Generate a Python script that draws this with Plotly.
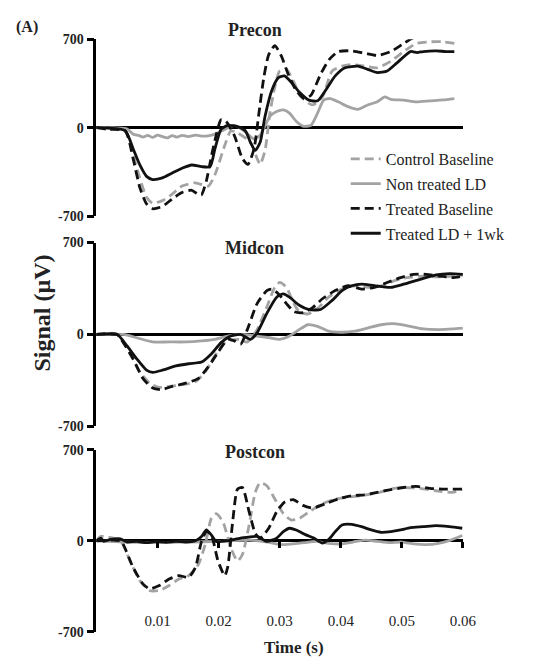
import plotly.graph_objects as go

# ---------------- data (time in s, signal in µV) ----------------
series_names = ["Control Baseline", "Non treated LD", "Treated Baseline", "Treated LD + 1wk"]
panel_titles = ["Precon", "Midcon", "Postcon"]
x_tick_vals = [0.01, 0.02, 0.03, 0.04, 0.05, 0.06]
x_tick_text = ["0.01", "0.02", "0.03", "0.04", "0.05", "0.06"]
y_tick_vals = [-700, 0, 700]
y_tick_text = ["-700", "0", "700"]

precon_control_baseline = [
    (0.0, 0), (0.0047, -25), (0.0066, -320), (0.0082, -551), (0.0092, -597), (0.0108, -577),
    (0.0124, -526), (0.0140, -462), (0.0162, -436), (0.0183, -462), (0.0194, -372), (0.0210, -141),
    (0.0220, -26), (0.0231, -40), (0.0252, -115), (0.0263, -244), (0.0268, -290), (0.0276, -180),
    (0.0284, 115), (0.0292, 320), (0.0300, 449), (0.0311, 462), (0.0322, 372), (0.0335, 244),
    (0.0354, 180), (0.0370, 244), (0.0386, 449), (0.0402, 487), (0.0418, 500), (0.0439, 487),
    (0.0460, 474), (0.0482, 526), (0.0503, 603), (0.0524, 667), (0.0546, 680), (0.0567, 680),
    (0.0586, 667),
]
precon_non_treated = [
    (0.0, 0), (0.0050, -10), (0.0060, -51), (0.0070, -62), (0.0076, -75), (0.0084, -60), (0.0092, -77),
    (0.0100, -58), (0.0108, -70), (0.0116, -80), (0.0124, -62), (0.0132, -74), (0.0140, -60),
    (0.0150, -70), (0.0162, -59), (0.0172, -66), (0.0183, -64), (0.0194, -51), (0.0210, -13),
    (0.0226, 18), (0.0242, -26), (0.0258, -90), (0.0268, -60), (0.0284, 90), (0.0295, 128),
    (0.0306, 141), (0.0316, 115), (0.0327, 51), (0.0338, 13), (0.0351, 18), (0.0362, 115),
    (0.0372, 218), (0.0383, 231), (0.0396, 205), (0.0412, 167), (0.0428, 146), (0.0444, 180),
    (0.0460, 205), (0.0472, 244), (0.0482, 225), (0.0503, 218), (0.0524, 205), (0.0546, 213),
    (0.0567, 220), (0.0586, 231),
]
precon_treated_baseline = [
    (0.0, 0), (0.0018, -13), (0.0047, -25), (0.0060, -244), (0.0071, -474), (0.0082, -603),
    (0.0092, -641), (0.0108, -623), (0.0124, -564), (0.0140, -513), (0.0156, -495), (0.0166, -526),
    (0.0172, -530), (0.0180, -420), (0.0188, -230), (0.0196, -60), (0.0204, 64), (0.0212, 51),
    (0.0226, -64), (0.0239, -244), (0.0248, -290), (0.0258, -167), (0.0266, 115), (0.0274, 397),
    (0.0282, 577), (0.0292, 649), (0.0303, 564), (0.0314, 423), (0.0327, 295), (0.0340, 231),
    (0.0351, 256), (0.0367, 423), (0.0381, 539), (0.0396, 603), (0.0418, 608), (0.0439, 590),
    (0.0460, 572), (0.0482, 603), (0.0503, 667), (0.0516, 705), (0.0530, 740),
]
precon_treated_ld = [
    (0.0, 0), (0.0047, -25), (0.0060, -167), (0.0071, -295), (0.0082, -385), (0.0092, -410),
    (0.0108, -397), (0.0124, -359), (0.0140, -321), (0.0156, -295), (0.0172, -308), (0.0186, -308),
    (0.0194, -167), (0.0204, -13), (0.0215, 18), (0.0231, 8), (0.0244, -26), (0.0252, -115),
    (0.0260, -180), (0.0268, -115), (0.0276, 90), (0.0287, 295), (0.0298, 397), (0.0308, 410),
    (0.0319, 359), (0.0332, 282), (0.0348, 218), (0.0362, 213), (0.0375, 295), (0.0391, 410),
    (0.0407, 474), (0.0428, 487), (0.0444, 462), (0.0460, 436), (0.0476, 449), (0.0492, 513),
    (0.0514, 603), (0.0525, 595), (0.0535, 603), (0.0556, 608), (0.0572, 603), (0.0586, 603),
]

midcon_control_baseline = [
    (0.0, 0), (0.0034, 0), (0.0055, -148), (0.0071, -285), (0.0087, -371), (0.0103, -403),
    (0.0119, -396), (0.0140, -383), (0.0162, -359), (0.0178, -285), (0.0194, -161), (0.0210, -62),
    (0.0231, -37), (0.0247, -57), (0.0263, 37), (0.0279, 210), (0.0292, 359), (0.0300, 396),
    (0.0311, 359), (0.0322, 247), (0.0332, 173), (0.0346, 156), (0.0362, 198), (0.0380, 284),
    (0.0402, 346), (0.0423, 371), (0.0444, 359), (0.0466, 371), (0.0487, 408), (0.0508, 433),
    (0.0535, 445), (0.0562, 438), (0.0586, 445), (0.0600, 453),
]
midcon_non_treated = [
    (0.0, 0), (0.0044, 0), (0.0066, -25), (0.0092, -57), (0.0119, -57), (0.0146, -57),
    (0.0172, -49), (0.0194, -37), (0.0215, -12), (0.0236, 0), (0.0263, -12), (0.0284, -25),
    (0.0300, -37), (0.0316, -12), (0.0332, 37), (0.0346, 74), (0.0362, 62), (0.0380, 25),
    (0.0402, 17), (0.0423, 25), (0.0444, 49), (0.0466, 74), (0.0487, 82), (0.0508, 67),
    (0.0535, 42), (0.0562, 37), (0.0583, 42), (0.0600, 49),
]
midcon_treated_baseline = [
    (0.0, 0), (0.0034, 0), (0.0044, -62), (0.0060, -186), (0.0076, -334), (0.0092, -408),
    (0.0106, -420), (0.0124, -396), (0.0146, -371), (0.0167, -334), (0.0183, -247), (0.0199, -136),
    (0.0215, -37), (0.0226, -49), (0.0236, -74), (0.0247, 37), (0.0263, 235), (0.0279, 334),
    (0.0287, 346), (0.0298, 309), (0.0311, 235), (0.0324, 173), (0.0338, 166), (0.0354, 205),
    (0.0370, 272), (0.0391, 334), (0.0412, 371), (0.0434, 346), (0.0455, 359), (0.0476, 396),
    (0.0498, 433), (0.0519, 458), (0.0540, 458), (0.0562, 445), (0.0583, 433), (0.0600, 445),
]
midcon_treated_ld = [
    (0.0, 0), (0.0034, 0), (0.0050, -87), (0.0066, -186), (0.0082, -272), (0.0092, -289),
    (0.0108, -272), (0.0130, -240), (0.0151, -223), (0.0172, -210), (0.0188, -148), (0.0204, -62),
    (0.0220, -12), (0.0236, 0), (0.0252, -37), (0.0263, 12), (0.0279, 161), (0.0295, 284),
    (0.0306, 309), (0.0316, 284), (0.0332, 223), (0.0348, 190), (0.0367, 190), (0.0386, 260),
    (0.0402, 334), (0.0418, 371), (0.0434, 383), (0.0455, 371), (0.0482, 359), (0.0503, 383),
    (0.0530, 420), (0.0556, 453), (0.0578, 463), (0.0600, 458),
]

postcon_control_baseline = [
    (0.0, 0), (0.0007, 33), (0.0039, 0), (0.0055, -156), (0.0071, -307), (0.0087, -383),
    (0.0103, -383), (0.0119, -345), (0.0135, -295), (0.0151, -269), (0.0167, -181), (0.0178, -30),
    (0.0188, 171), (0.0196, 209), (0.0207, 146), (0.0220, -55), (0.0231, -156), (0.0239, -106),
    (0.0250, 121), (0.0260, 373), (0.0268, 448), (0.0279, 423), (0.0292, 322), (0.0306, 209),
    (0.0319, 159), (0.0332, 171), (0.0348, 222), (0.0370, 285), (0.0391, 322), (0.0412, 335),
    (0.0434, 347), (0.0460, 368), (0.0482, 398), (0.0503, 410), (0.0530, 403), (0.0556, 385),
    (0.0583, 373), (0.0599, 398),
]
postcon_non_treated = [
    (0.0, 0), (0.0050, -10), (0.0100, -15), (0.0150, -10), (0.0200, -5), (0.0250, 5),
    (0.0280, -10), (0.0300, -30), (0.0320, -25), (0.0340, -15), (0.0360, -5), (0.0380, -20),
    (0.0400, -25), (0.0420, -10), (0.0440, 5), (0.0460, -5), (0.0480, -15), (0.0500, -10),
    (0.0520, -25), (0.0540, -30), (0.0560, -20), (0.0580, 5), (0.0599, 40),
]
postcon_treated_baseline = [
    (0.0, 0), (0.0039, 0), (0.0044, -30), (0.0060, -206), (0.0076, -332), (0.0087, -370),
    (0.0103, -345), (0.0119, -295), (0.0135, -269), (0.0151, -282), (0.0162, -206), (0.0172, -5),
    (0.0180, 70), (0.0188, 45), (0.0199, -156), (0.0210, -269), (0.0215, -200), (0.0223, 146),
    (0.0231, 398), (0.0239, 410), (0.0250, 222), (0.0260, 58), (0.0268, 20), (0.0282, 96),
    (0.0295, 222), (0.0308, 297), (0.0322, 317), (0.0338, 272), (0.0354, 252), (0.0375, 285),
    (0.0396, 322), (0.0418, 347), (0.0439, 353), (0.0460, 373), (0.0482, 393), (0.0503, 410),
    (0.0524, 418), (0.0546, 403), (0.0567, 398), (0.0599, 398),
]
postcon_treated_ld = [
    (0.0, 0), (0.0007, 20), (0.0012, -5), (0.0023, 10), (0.0039, 15), (0.0050, -10),
    (0.0066, -5), (0.0082, -15), (0.0098, -5), (0.0114, -12), (0.0130, -5), (0.0146, -10),
    (0.0162, 0), (0.0172, 33), (0.0180, 83), (0.0188, 45), (0.0196, -5), (0.0215, 0),
    (0.0236, 20), (0.0263, 33), (0.0279, -5), (0.0295, 20), (0.0306, 70), (0.0316, 96),
    (0.0327, 83), (0.0343, 45), (0.0356, 20), (0.0370, -18), (0.0380, 8), (0.0391, 70),
    (0.0402, 121), (0.0418, 126), (0.0434, 108), (0.0450, 83), (0.0466, 65), (0.0482, 70),
    (0.0498, 83), (0.0514, 101), (0.0535, 108), (0.0556, 116), (0.0578, 108), (0.0599, 96),
]

panels = [
    [precon_control_baseline, precon_non_treated, precon_treated_baseline, precon_treated_ld],
    [midcon_control_baseline, midcon_non_treated, midcon_treated_baseline, midcon_treated_ld],
    [postcon_control_baseline, postcon_non_treated, postcon_treated_baseline, postcon_treated_ld],
]

# ---------------- styling ----------------
FONT = "Liberation Serif"
GRAY = "#a3a3a3"
BLACK = "#111111"
styles = [
    dict(color=GRAY, width=2.8, dash="9px,5px"),
    dict(color=GRAY, width=2.8, dash="solid"),
    dict(color=BLACK, width=2.8, dash="9px,5px"),
    dict(color=BLACK, width=2.8, dash="solid"),
]
x_domain = [0.18, 0.8636]
y_domains = [[0.6792, 0.9505], [0.3568, 0.6387], [0.0420, 0.3208]]

fig = go.Figure()
for p, panel in enumerate(panels):
    ax = "" if p == 0 else str(p + 1)
    for s, data in enumerate(panel):
        fig.add_trace(go.Scatter(
            x=[d[0] for d in data], y=[d[1] for d in data],
            mode="lines", line=dict(shape="spline", smoothing=0.6, **styles[s]),
            name=series_names[s], legendgroup=series_names[s],
            showlegend=(p == 0), xaxis="x" + ax, yaxis="y" + ax,
        ))

layout = dict(
    width=550, height=667,
    margin=dict(l=0, r=0, t=0, b=0),
    paper_bgcolor="white", plot_bgcolor="white",
    font=dict(family=FONT, color="black"),
    legend=dict(x=0.645, y=0.793, xanchor="left", yanchor="top",
                font=dict(family=FONT, size=16, color="#222"),
                bgcolor="rgba(0,0,0,0)", tracegroupgap=1),
)
for p in range(3):
    ax = "" if p == 0 else str(p + 1)
    xa = dict(domain=x_domain, range=[0, 0.06], showgrid=False, zeroline=False,
              showline=False, fixedrange=True)
    if p < 2:
        xa.update(anchor="y" + ax, ticks="", showticklabels=False)
    else:
        zero_pos = (y_domains[p][0] + y_domains[p][1]) / 2
        xa.update(anchor="free", position=zero_pos, ticks="outside", ticklen=6,
                  tickwidth=2.5, tickcolor="black", tickvals=x_tick_vals,
                  ticktext=x_tick_text, ticklabelstandoff=60,
                  tickfont=dict(family=FONT, size=15, color="#222"))
    layout["xaxis" + ax] = xa
    layout["yaxis" + ax] = dict(
        domain=y_domains[p], range=[-700, 700], anchor="x" + ax,
        tickvals=y_tick_vals, ticktext=["<b>%s</b>" % t for t in y_tick_text],
        ticks="outside", ticklen=7, tickwidth=2.5, tickcolor="black",
        showline=True, linewidth=2.8, linecolor="black", showgrid=False,
        zeroline=True, zerolinecolor="black", zerolinewidth=2.8,
        tickfont=dict(family=FONT, size=14, color="#222"), fixedrange=True,
    )

title_y = [0.965, 0.631, 0.318]
common = dict(xref="paper", yref="paper", showarrow=False, xanchor="center", yanchor="middle")
annotations = []
for p, t in enumerate(panel_titles):
    annotations.append(dict(text="<b>%s</b>" % t, x=0.475, y=title_y[p],
                            font=dict(family=FONT, size=18, color="#222"), **common))
annotations += [
    dict(text="<b>(A)</b>", x=0.051, y=0.969, font=dict(family=FONT, size=16, color="#222"), **common),
    dict(text="<b>Signal (µV)</b>", x=0.078, y=0.531, textangle=-90,
         font=dict(family=FONT, size=24, color="#222"), **common),
    dict(text="<b>Time (s)</b>", x=0.548, y=0.018, font=dict(family=FONT, size=17, color="#222"), **common),
]
layout["annotations"] = annotations
fig.update_layout(**layout)
fig.write_html("out.html", config={"displayModeBar": False},
               post_script="document.body.style.margin='0';")
